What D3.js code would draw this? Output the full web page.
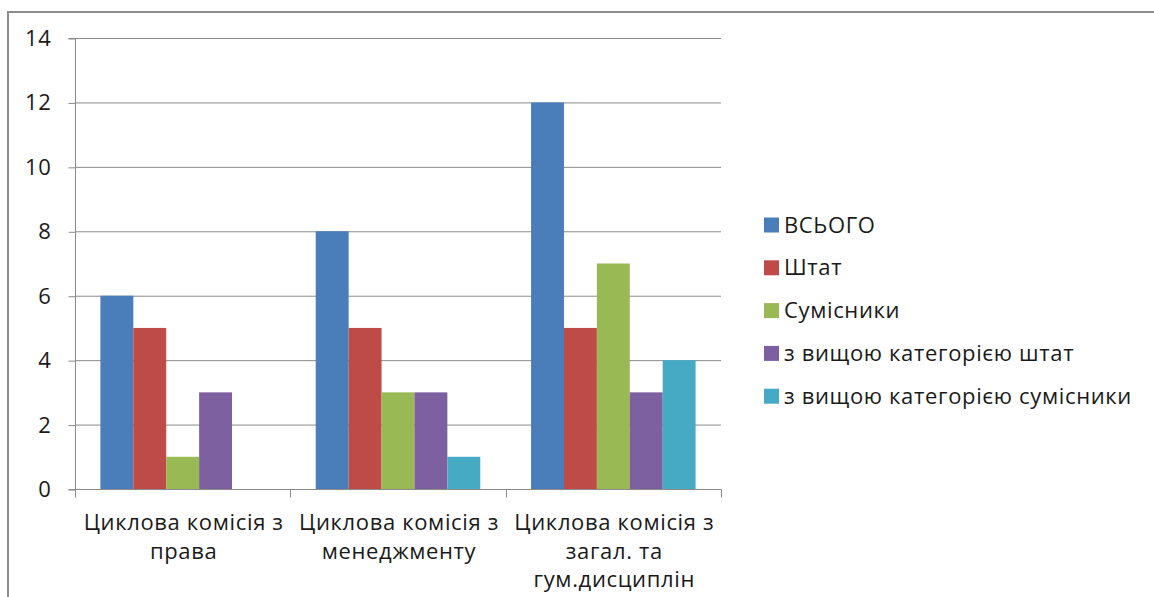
<!DOCTYPE html>
<html><head><meta charset="utf-8">
<script src="https://cdn.jsdelivr.net/npm/d3@7"></script>
<style>body{margin:0;background:#fff}svg{display:block}text{font-family:"Open Sans",sans-serif;fill:#1a1a1a;letter-spacing:0.65px}</style>
</head><body>
<svg id="c" width="1154" height="597"></svg>
<script>
const categories = ["Циклова комісія з права", "Циклова комісія з менеджменту", "Циклова комісія з загал. та гум.дисциплін"];
const seriesNames = ["ВСЬОГО", "Штат", "Сумісники", "з вищою категорією штат", "з вищою категорією сумісники"];
const vsogo = [6, 8, 12];
const shtat = [5, 5, 5];
const sumisnyky = [1, 3, 7];
const vyshchaShtat = [3, 3, 3];
const vyshchaSumisnyky = [0, 1, 4];
const yTicks = [0, 2, 4, 6, 8, 10, 12, 14];
const colors = ["#4A7EBB", "#BE4B48", "#98B954", "#7D60A0", "#46AAC5"];

const seriesValues = [vsogo, shtat, sumisnyky, vyshchaShtat, vyshchaSumisnyky];
const svg = d3.select("#c");
const pLeft = 75, pRight = 721, pTop = 38, pBottom = 489;

svg.append("path").attr("d", `M 1160 12 H 8 V 600`).attr("fill", "none").attr("stroke", "#8c8c8c").attr("stroke-width", 2);

const y = d3.scaleLinear().domain([0, 14]).range([pBottom, pTop]);
const x0 = d3.scaleBand().domain(categories).range([pLeft, pRight]).padding(0);
const gap = x0.bandwidth() * 0.118;
const x1 = d3.scaleBand().domain(seriesNames).range([gap, x0.bandwidth() - gap]).padding(0);

// gridlines
svg.append("g").selectAll("line").data(yTicks.filter(d => d > 0)).join("line")
  .attr("x1", pLeft).attr("x2", pRight).attr("y1", d => y(d) + 0.5).attr("y2", d => y(d) + 0.5)
  .attr("stroke", "#8a8a8a").attr("stroke-width", 1);

// bars
const g = svg.append("g");
categories.forEach((c, ci) => {
  seriesNames.forEach((s, si) => {
    const v = seriesValues[si][ci];
    if (v <= 0) return;
    g.append("rect").attr("x", x0(c) + x1(s)).attr("width", x1.bandwidth())
      .attr("y", y(v)).attr("height", y(0) - y(v)).attr("fill", colors[si]);
  });
});

// y axis
const yAxis = d3.axisLeft(y).tickValues(yTicks).tickSize(7).tickPadding(17).tickFormat(d3.format("d"));
const ya = svg.append("g").attr("transform", `translate(${pLeft + 0.5},0.5)`).call(yAxis);
ya.select(".domain").attr("stroke", "#8a8a8a").attr("d", `M-7,${pTop}H0V${pBottom}H-7`);
ya.selectAll(".tick line").attr("stroke", "#8a8a8a");
ya.selectAll(".tick text").attr("font-size", 22).attr("fill", "#1a1a1a").attr("font-family", "Open Sans");

// x axis
const xa = svg.append("g").attr("transform", `translate(0,${pBottom + 0.5})`);
xa.append("line").attr("x1", pLeft).attr("x2", pRight).attr("stroke", "#8a8a8a");
[pLeft, ...categories.map(c => x0(c) + x0.bandwidth())].forEach(xv => {
  xa.append("line").attr("x1", Math.round(xv) + 0.5).attr("x2", Math.round(xv) + 0.5).attr("y1", 0).attr("y2", 8).attr("stroke", "#8a8a8a");
});

function wrapLines(text, width, fs) {
  const words = text.split(" ");
  const lines = [];
  let cur = "";
  const tmp = svg.append("text").attr("font-size", fs);
  words.forEach(w => {
    const t = cur ? cur + " " + w : w;
    tmp.text(t);
    if (tmp.node().getComputedTextLength() > width && cur) { lines.push(cur); cur = w; }
    else cur = t;
  });
  if (cur) lines.push(cur);
  tmp.remove();
  return lines;
}

categories.forEach(c => {
  const lines = wrapLines(c, x0.bandwidth() - 6, 22);
  const cx = x0(c) + x0.bandwidth() / 2 + 1;
  const t = svg.append("text").attr("text-anchor", "middle").attr("font-size", 22).attr("x", cx);
  lines.forEach((l, i) => t.append("tspan").attr("x", cx).attr("y", 530 + i * 28.5).text(l));
});

// legend
const lg = svg.append("g");
seriesNames.forEach((s, i) => {
  const cy = 225 + i * 42.8;
  lg.append("rect").attr("x", 764).attr("y", cy - 7.5).attr("width", 15).attr("height", 15).attr("fill", colors[i]);
  lg.append("text").attr("x", 784).attr("y", cy + 7.5).attr("font-size", 22).text(s);
});
</script>
</body></html>
